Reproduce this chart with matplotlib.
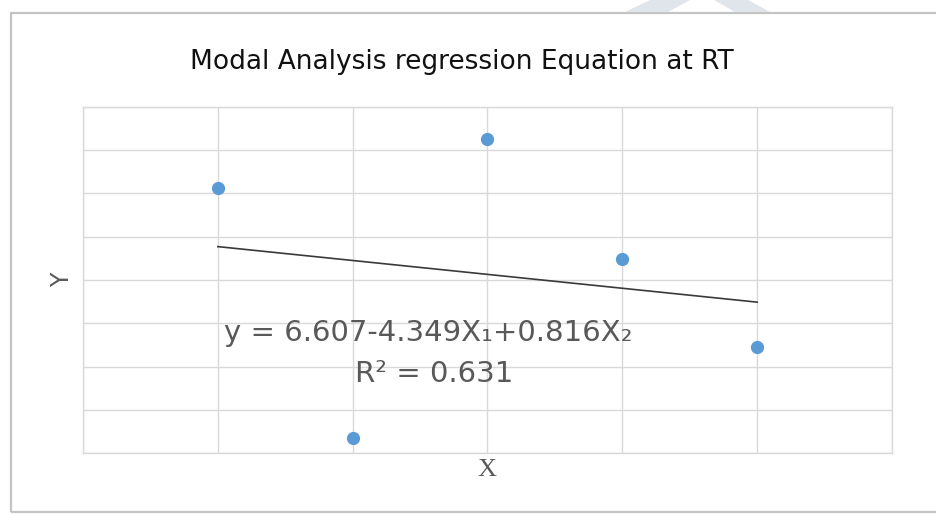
import numpy as np
import matplotlib
matplotlib.use("Agg")
import matplotlib.pyplot as plt
from matplotlib.patches import Rectangle, Polygon

# Data
x_vals = [1, 2, 3, 4, 5]
y_vals = [6.12, 0.35, 7.25, 4.48, 2.45]
title = "Modal Analysis regression Equation at RT"
eq_line1 = "y = 6.607-4.349X\u2081+0.816X\u2082"
eq_line2 = "R\u00b2 = 0.631"

W, H = 936, 514
fig = plt.figure(figsize=(W / 100, H / 100), dpi=100)
fig.patch.set_facecolor("white")

# outer frame
fig.patches.append(Rectangle((11 / W, 1 - 512 / H), 1.0, (512 - 13) / H,
                             transform=fig.transFigure, fill=False,
                             edgecolor="#c4c4c4", lw=1.6, zorder=0))
# faint watermark strokes at the top
fig.patches.append(Polygon([(625 / W, 1 - 12 / H), (668 / W, 1 - 12 / H),
                            (690 / W, 1.0), (650 / W, 1.0)],
                           closed=True, transform=fig.transFigure,
                           facecolor="#dfe5ea", edgecolor="none", zorder=0))
fig.patches.append(Polygon([(735 / W, 1 - 12 / H), (770 / W, 1 - 12 / H),
                            (748 / W, 1.0), (714 / W, 1.0)],
                           closed=True, transform=fig.transFigure,
                           facecolor="#dfe5ea", edgecolor="none", zorder=0))

ax = fig.add_axes([83 / W, 1 - 453 / H, (892 - 83) / W, (453 - 107) / H])
ax.set_xlim(0, 6)
ax.set_ylim(0, 8)
ax.set_xticks(np.arange(0, 7, 1))
ax.set_yticks(np.arange(0, 9, 1))
ax.tick_params(length=0, labelbottom=False, labelleft=False)
ax.grid(True, color="#d9d9d9", lw=1.0)
ax.set_axisbelow(True)
for s in ax.spines.values():
    s.set_color("#d9d9d9")
    s.set_linewidth(1.0)

ax.plot(x_vals, y_vals, "o", color="#5b9bd5", markersize=8.5, zorder=3)

coef = np.polyfit(x_vals, y_vals, 1)
xt = np.array([min(x_vals), max(x_vals)])
ax.plot(xt, np.polyval(coef, xt), color="#3a3a3a", lw=1.2, zorder=2)

ax.text((428 - 83) / 809, (453 - 333) / 346, eq_line1, transform=ax.transAxes,
        ha="center", va="center", fontsize=21, color="#595959",
        family=["DejaVu Sans"])
ax.text((434 - 83) / 809, (453 - 374) / 346, eq_line2, transform=ax.transAxes,
        ha="center", va="center", fontsize=21, color="#595959",
        family=["DejaVu Sans"])

fig.text(462 / W, 1 - 62 / H, title, ha="center", va="center",
         fontsize=19, color="#111111", family=["DejaVu Sans"])
fig.text(487 / W, 1 - 470 / H, "X", ha="center", va="center",
         fontsize=19, color="#595959", family=["Liberation Serif"])
fig.text(62 / W, 1 - 280 / H, "Y", ha="center", va="center", rotation=90,
         fontsize=17, color="#595959", family=["DejaVu Sans"])

fig.savefig("out.png", dpi=100)
